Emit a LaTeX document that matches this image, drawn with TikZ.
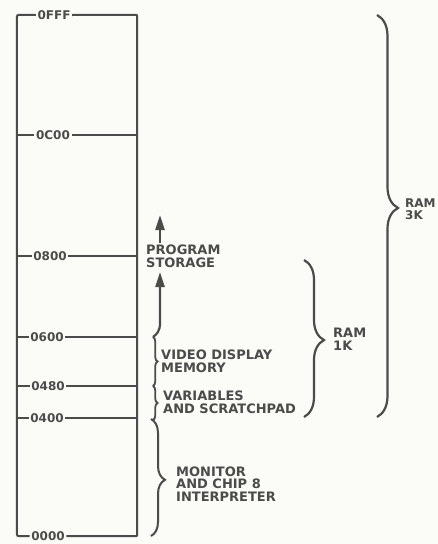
\documentclass[tikz,border=0pt]{standalone}
\usepackage{fontspec}
\setmainfont{DejaVu Sans}
\usetikzlibrary{arrows.meta,decorations.pathreplacing}
\definecolor{bgc}{RGB}{251,251,248}
\definecolor{ink}{RGB}{75,75,75}
\begin{document}
\begin{tikzpicture}[x=1pt,y=-1pt,
  addr/.style={inner sep=1.5pt,text=ink,font=\fontsize{12}{12}\selectfont\bfseries},
  lbl/.style={anchor=west,align=left,inner sep=0pt,text=ink,font=\fontsize{13}{12.6}\selectfont\bfseries},
  rule/.style={draw=ink,line width=2pt},
  bigbrace/.style={draw=ink,line width=2.2pt,decorate,decoration={brace,amplitude=#1}},
  upar/.style={draw=ink,line width=2.2pt,-{Triangle[length=15pt,width=9pt]}}]
\fill[bgc] (0,0) rectangle (438,544);
\useasboundingbox (0,0) rectangle (438,544);
% geometry of the memory column
\node[minimum width=120pt,minimum height=521pt,inner sep=0pt] (box) at (77,275.5) {};
% address labels
\node[addr] (aFFF) at (54,15) {0FFF};
\node[addr] (aC00) at (53,135) {0C00};
\node[addr] (a800) at (50,256) {0800};
\node[addr] (a600) at (47,337) {0600};
\node[addr] (a480) at (48,386) {0480};
\node[addr] (a400) at (47,418) {0400};
\node[addr] (a000) at (48,536) {0000};
% outline
\draw[rule,rounded corners=2pt] (aFFF.west) -- (box.north west) -- (box.south west) -- (a000.west);
\draw[rule,rounded corners=1pt] (aFFF.east) -- (box.north east) -- (box.south east) -- (a000.east);
% dividing lines
\foreach \n in {aC00,a800,a600,a480,a400}{
  \draw[rule] (box.west |- \n) -- (\n.west);
  \draw[rule] (\n.east) -- (box.east |- \n);
}
% region labels
\node[lbl] (prog) at (146,256) {PROGRAM\\STORAGE};
\node[lbl] (video) at (161,361.5) {VIDEO DISPLAY\\MEMORY};
\node[lbl] (vars) at (163,402) {VARIABLES\\AND SCRATCHPAD};
\node[lbl] (mon) at (176,484) {MONITOR\\AND CHIP 8\\INTERPRETER};
\node[lbl] (ram1) at (333,339) {RAM\\1K};
\node[lbl,font=\fontsize{12}{12}\selectfont\bfseries] (ram3) at (405,209) {RAM\\3K};
% braces
\coordinate (b3t) at (377,15);
\coordinate (b3b) at (377,417);
\draw[bigbrace=21pt,decoration={aspect=0.48}] (b3t) -- (b3b);
\coordinate (b1t) at (304,260);
\coordinate (b1b) at (304,417);
\draw[bigbrace=20pt,decoration={aspect=0.51}] (b1t) -- (b1b);
\coordinate (bmt) at (151,419);
\coordinate (bmb) at (151,536);
\draw[bigbrace=14pt,decoration={aspect=0.52},line width=2pt] (bmt) -- (bmb);
\coordinate (vtop) at (153,337);
\coordinate (vmid) at (153,386);
\coordinate (vbot) at (153,420);
\draw[bigbrace=4.5pt,line width=1.8pt] (vtop) -- (vmid);
\draw[bigbrace=4.5pt,line width=1.8pt] (vmid) -- (vbot);
% arrows to program storage
\coordinate (arA) at (160,272);
\coordinate (arB0) at (160,243);
\coordinate (arB) at (160,215);
\draw[upar] (vtop) .. controls (157,334) and (160,331) .. (160,323) -- (arA);
\draw[upar] (arB0) -- (arB);
\end{tikzpicture}
\end{document}
